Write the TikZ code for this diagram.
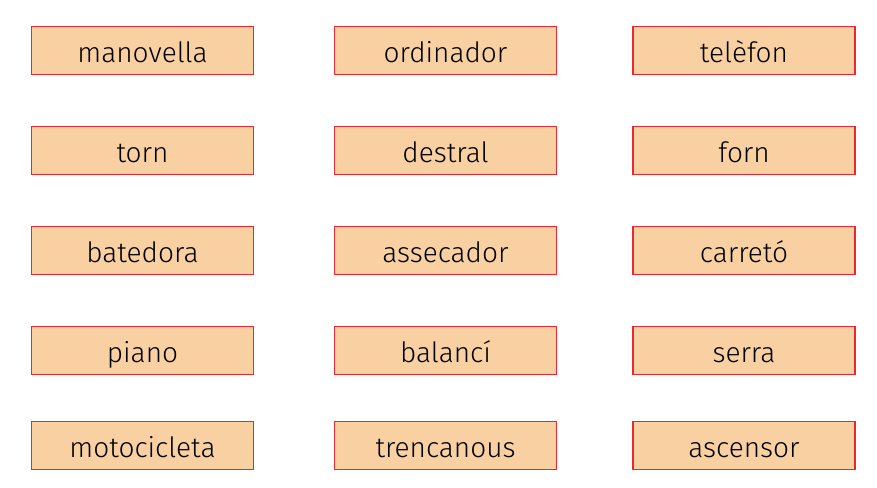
\documentclass[tikz,border=0pt]{standalone}
\usepackage{fontspec}
\setmainfont{Fira Sans Light}
\usepackage{tikz}
\definecolor{cardfill}{RGB}{248,208,162}
\definecolor{cardline}{RGB}{234,40,52}
\tikzstyle{sheet}=[x=1pt,y=-1pt]
\tikzstyle{word}=[draw=cardline,fill=cardfill,line width=1.2pt,minimum width=222pt,minimum height=48pt,inner sep=0pt,font=\fontsize{28}{32}\selectfont,text height=24pt,text depth=0pt]

\begin{document}
\begin{tikzpicture}[sheet]
                  \useasboundingbox (0,0) rectangle (877,487);
                  \foreach \y/\a/\b/\c [count=\r] in {50.5/manovella/ordinador/telèfon,
                      150.5/torn/destral/forn, 250.5/batedora/assecador/carretó,
                      350.5/piano/balancí/serra, 445.5/motocicleta/trencanous/ascensor}
                    {\node[word] (w\r a) at (142.5,\y) {\a};
                     \node[word] (w\r b) at (445.5,\y) {\b};
                     \node[word] (w\r c) at (744,\y) {\c};}
                \end{tikzpicture}
\end{document}
